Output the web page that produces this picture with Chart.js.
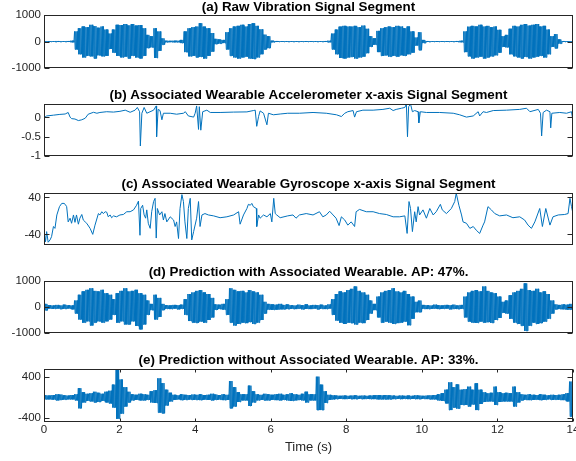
<!DOCTYPE html>
<html>
<head>
<meta charset="utf-8">
<script src="https://cdn.jsdelivr.net/npm/chart.js@4.4.1/dist/chart.umd.min.js"></script>
<style>
html, body { margin: 0; padding: 0; background: #fff; }
#fig { position: relative; width: 576px; height: 461px; overflow: hidden; background: #fff; }
#fig canvas { position: absolute; left: 0; }
</style>
</head>
<body>
<div id="fig">
  <canvas id="pa" width="576" height="78" style="top:0px"></canvas>
  <canvas id="pb" width="576" height="78" style="top:88px"></canvas>
  <canvas id="pc" width="576" height="78" style="top:177px"></canvas>
  <canvas id="pd" width="576" height="78" style="top:265px"></canvas>
  <canvas id="pe" width="576" height="106" style="top:353px"></canvas>
</div>
<script>
// bin width (s) for the envelope of the vibration-type signals
const BIN = 0.1;
// how many max/min swings are drawn inside one bin (dense fill like the original)
const SWINGS = 3;

// (a) raw vibration: max / |min| per 0.1 s bin
const aTop = [15, 15, 15, 20, 15, 15, 20, 30, 380, 500,
  565, 540, 630, 580, 520, 565, 450, 300, 450, 630,
  620, 660, 610, 660, 600, 620, 500, 250, 200, 500,
  380, 120, 30, 25, 30, 30, 60, 380, 500, 540,
  565, 690, 560, 500, 320, 100, 80, 60, 350, 500,
  565, 590, 630, 565, 660, 690, 590, 460, 260, 200,
  30, 20, 15, 15, 15, 15, 15, 15, 15, 15,
  15, 15, 15, 15, 20, 30, 300, 450, 560, 590,
  565, 565, 590, 540, 600, 480, 200, 120, 400, 500,
  540, 565, 540, 590, 565, 500, 565, 380, 150, 350,
  60, 20, 15, 15, 15, 15, 15, 15, 15, 20,
  30, 380, 560, 590, 565, 630, 565, 590, 540, 565,
  440, 200, 250, 480, 590, 565, 630, 660, 600, 630,
  660, 565, 590, 450, 200, 280, 80, 20, 15, 15];
const aBot = [15, 15, 15, 20, 15, 15, 20, 30, 300, 480,
  600, 540, 560, 640, 520, 560, 540, 280, 420, 540,
  600, 570, 640, 540, 600, 640, 540, 250, 220, 620,
  350, 120, 30, 25, 30, 30, 60, 400, 560, 540,
  600, 580, 640, 540, 380, 100, 80, 60, 300, 540,
  600, 640, 600, 570, 640, 660, 600, 480, 300, 250,
  30, 20, 15, 15, 15, 15, 15, 15, 15, 15,
  15, 15, 15, 15, 20, 30, 300, 480, 620, 640,
  600, 580, 640, 600, 570, 440, 200, 120, 400, 540,
  520, 570, 540, 570, 520, 540, 480, 420, 150, 330,
  60, 20, 15, 15, 15, 15, 15, 15, 15, 20,
  30, 400, 560, 640, 600, 570, 640, 600, 560, 520,
  420, 200, 220, 480, 560, 600, 640, 580, 640, 600,
  570, 540, 600, 480, 200, 260, 80, 20, 15, 15];

// (b) accelerometer x-axis
const bT = [0.01, 0.07, 0.25, 0.42, 0.56, 0.64, 0.69, 0.73, 0.82, 0.91,
  1.00, 1.09, 1.17, 1.31, 1.40, 1.48, 1.66, 1.84, 2.01, 2.15,
  2.28, 2.41, 2.47, 2.53, 2.55, 2.59, 2.65, 2.72, 2.90, 2.97,
  2.98, 3.02, 3.07, 3.12, 3.16, 3.34, 3.51, 3.69, 3.74, 3.82,
  3.96, 4.00, 4.04, 4.09, 4.11, 4.15, 4.20, 4.31, 4.40, 4.66,
  5.02, 5.37, 5.54, 5.59, 5.63, 5.68, 5.72, 5.81, 5.90, 5.94,
  6.07, 6.25, 6.45, 6.76, 7.12, 7.47, 7.74, 7.87, 7.96, 8.04,
  8.18, 8.22, 8.27, 8.44, 8.71, 8.97, 9.15, 9.24, 9.32, 9.46,
  9.55, 9.59, 9.62, 9.65, 9.70, 9.75, 9.81, 9.90, 9.92, 9.96,
  10.12, 10.47, 10.83, 11.00, 11.18, 11.36, 11.49, 11.53, 11.62, 11.71,
  11.89, 12.24, 12.59, 12.77, 12.86, 13.08, 13.14, 13.17, 13.21, 13.30,
  13.39, 13.41, 13.44, 13.65, 13.83, 13.96, 14.00];
const bV = [0.00, 0.04, 0.06, 0.08, 0.09, 0.13, 0.01, -0.03, -0.04, -0.08,
  -0.06, -0.02, 0.085, 0.135, 0.11, 0.13, 0.15, 0.14, 0.16, 0.19,
  0.135, 0.19, 0.26, 0.15, -0.74, 0.11, 0.26, 0.11, 0.19, 0.30,
  -0.50, 0.21, 0.18, -0.06, 0.11, 0.11, 0.085, 0.11, 0.15, 0.04,
  0.01, 0.11, 0.30, -0.31, 0.28, -0.33, 0.15, 0.19, 0.13, 0.13,
  0.14, 0.145, 0.18, 0.19, -0.23, 0.03, 0.17, 0.11, -0.19, 0.11,
  0.07, 0.09, 0.11, 0.11, 0.13, 0.11, 0.07, 0.025, 0.11, 0.15,
  0.18, 0.01, 0.15, 0.19, 0.19, 0.21, 0.24, 0.18, 0.21, 0.24,
  0.26, 0.35, -0.50, 0.28, 0.35, 0.15, 0.18, 0.15, -0.14, 0.15,
  0.13, 0.13, 0.11, 0.07, 0.01, 0.04, 0.15, 0.04, 0.15, 0.13,
  0.18, 0.19, 0.21, 0.24, 0.15, 0.21, 0.11, -0.48, 0.13, 0.19,
  0.15, -0.27, 0.11, 0.13, 0.11, 0.15, -0.10];

// (c) gyroscope x-axis
const cT = [0.01, 0.04, 0.07, 0.11, 0.16, 0.20, 0.25, 0.29, 0.34, 0.41,
  0.47, 0.53, 0.56, 0.60, 0.64, 0.69, 0.73, 0.78, 0.82, 0.86,
  0.91, 0.95, 1.00, 1.04, 1.09, 1.13, 1.22, 1.29, 1.35, 1.44,
  1.48, 1.53, 1.57, 1.62, 1.66, 1.70, 1.75, 1.79, 1.84, 1.92,
  2.01, 2.10, 2.19, 2.28, 2.37, 2.45, 2.50, 2.54, 2.56, 2.61,
  2.65, 2.69, 2.72, 2.76, 2.81, 2.85, 2.90, 2.94, 2.97, 3.00,
  3.06, 3.12, 3.16, 3.20, 3.25, 3.34, 3.43, 3.47, 3.51, 3.56,
  3.60, 3.65, 3.69, 3.73, 3.78, 3.82, 3.87, 3.91, 3.96, 4.04,
  4.09, 4.13, 4.18, 4.26, 4.35, 4.49, 4.66, 4.84, 5.02, 5.15,
  5.19, 5.28, 5.37, 5.41, 5.46, 5.50, 5.54, 5.62, 5.63, 5.68,
  5.72, 5.81, 5.90, 5.99, 6.03, 6.08, 6.12, 6.16, 6.25, 6.45,
  6.59, 6.67, 6.76, 6.94, 7.12, 7.29, 7.38, 7.47, 7.56, 7.65,
  7.73, 7.81, 7.87, 7.96, 8.04, 8.13, 8.22, 8.26, 8.35, 8.53,
  8.71, 8.88, 9.06, 9.24, 9.41, 9.55, 9.61, 9.66, 9.70, 9.75,
  9.81, 9.85, 9.90, 9.94, 10.03, 10.12, 10.21, 10.30, 10.38, 10.49,
  10.54, 10.65, 10.78, 10.87, 10.91, 10.98, 11.05, 11.09, 11.18, 11.27,
  11.36, 11.44, 11.53, 11.62, 11.66, 11.75, 11.84, 11.93, 12.06, 12.24,
  12.41, 12.59, 12.72, 12.81, 12.90, 12.99, 13.12, 13.19, 13.28, 13.39,
  13.47, 13.61, 13.78, 13.87, 13.92, 13.96, 14.00];
const cV = [-38, -56, -34, -57, -52, -45, -23, -27, 2, 20,
  27, 27, 25, 20, -13, -5, -16, 2, -14, 2,
  -18, -5, 3, -9, -13, -16, -27, -40, -20, 5,
  2, 9, 5, 9, 8, -2, 2, -4, 0, -2,
  2, 3, 9, 9, 13, 23, 32, -42, 16, 23,
  2, -5, 13, -16, -27, 9, 31, 38, -48, 16,
  2, 9, -9, 5, -13, -2, -9, -23, -13, -49,
  16, 46, 31, -13, -49, 16, 38, -52, -34, -5,
  31, -23, 2, 5, 2, 0, -4, -2, 2, 9,
  -18, 2, 16, 25, 23, 27, 20, 16, -23, 2,
  -5, 2, -2, 5, -13, 38, 5, 2, -4, 0,
  2, -5, 2, 5, 2, 9, -2, 2, 10, 2,
  -5, -21, -2, -9, -20, -13, -23, 9, 14, 9,
  9, 5, 3, -2, -2, 0, -38, 31, 16, -34,
  9, -13, 20, 2, 13, -5, 16, 2, 9, 25,
  13, 5, 16, 31, 49, 23, 2, -13, -16, -27,
  -23, -31, -38, -20, -13, 20, 13, 5, 0, 2,
  -4, -2, -9, -20, -27, -13, 16, -23, 16, -20,
  -2, 2, 3, 5, 38, 20, 5];

// (d) prediction with associated wearable: max / |min| per bin
const dTop = [120, 70, 60, 80, 60, 90, 70, 60, 250, 470,
  600, 660, 720, 620, 600, 660, 530, 470, 300, 530,
  620, 720, 600, 620, 660, 530, 470, 250, 120, 470,
  350, 120, 70, 60, 80, 70, 90, 300, 500, 560,
  620, 650, 560, 500, 350, 100, 90, 120, 300, 720,
  660, 600, 620, 560, 650, 600, 560, 470, 200, 120,
  100, 90, 120, 80, 100, 70, 60, 90, 70, 100,
  60, 80, 70, 90, 60, 100, 300, 500, 600, 560,
  650, 700, 790, 620, 560, 470, 250, 120, 400, 560,
  620, 650, 720, 600, 560, 620, 500, 400, 200, 250,
  80, 70, 60, 90, 70, 60, 80, 70, 90, 60,
  80, 400, 560, 620, 650, 600, 790, 620, 560, 530,
  400, 200, 250, 450, 560, 620, 700, 910, 650, 620,
  700, 560, 600, 500, 250, 100, 80, 100, 90, 120];
const dBot = [130, 60, 70, 60, 80, 70, 60, 90, 250, 480,
  600, 550, 710, 600, 550, 600, 550, 480, 300, 600,
  550, 670, 670, 550, 730, 860, 670, 300, 120, 480,
  380, 120, 70, 80, 60, 90, 70, 300, 540, 600,
  610, 560, 600, 500, 400, 110, 80, 100, 300, 600,
  710, 650, 600, 620, 580, 650, 600, 500, 250, 100,
  110, 100, 90, 90, 80, 70, 80, 60, 90, 70,
  80, 60, 90, 70, 80, 60, 300, 520, 600, 650,
  600, 620, 670, 600, 620, 500, 250, 120, 400, 600,
  560, 600, 650, 620, 600, 560, 700, 450, 200, 200,
  70, 80, 70, 60, 80, 70, 60, 90, 70, 80,
  70, 400, 560, 600, 610, 560, 600, 580, 610, 500,
  420, 220, 250, 450, 600, 650, 720, 920, 720, 600,
  650, 620, 560, 450, 250, 90, 80, 90, 100, 100];

// (e) prediction without associated wearable: max / |min| per bin
const eTop = [40, 35, 45, 60, 55, 40, 35, 45, 60, 180,
  100, 70, 80, 110, 90, 70, 110, 130, 250, 600,
  350, 200, 110, 60, 50, 70, 60, 50, 120, 140,
  374, 280, 150, 90, 50, 40, 60, 50, 45, 55,
  50, 60, 45, 50, 70, 55, 45, 60, 50, 320,
  200, 100, 60, 60, 230, 120, 60, 50, 70, 60,
  50, 60, 70, 50, 60, 80, 60, 50, 70, 110,
  60, 60, 407, 250, 120, 50, 40, 35, 30, 35,
  30, 35, 40, 30, 35, 30, 35, 40, 45, 40,
  45, 40, 35, 30, 35, 30, 35, 30, 40, 35,
  30, 35, 40, 45, 60, 80, 150, 295, 200, 255,
  150, 160, 210, 150, 275, 150, 100, 80, 90, 210,
  100, 80, 90, 80, 210, 100, 60, 50, 60, 50,
  45, 60, 50, 40, 50, 45, 50, 60, 80, 310];
const eBot = [40, 40, 45, 60, 50, 45, 40, 40, 60, 216,
  100, 70, 80, 100, 90, 70, 100, 120, 200, 420,
  320, 180, 100, 60, 50, 60, 60, 50, 100, 110,
  300, 315, 160, 80, 50, 40, 55, 50, 45, 50,
  50, 55, 45, 50, 60, 50, 45, 55, 50, 216,
  180, 90, 60, 60, 170, 100, 60, 50, 60, 60,
  50, 55, 60, 50, 60, 70, 60, 50, 60, 100,
  60, 60, 250, 250, 110, 50, 40, 35, 30, 35,
  30, 35, 35, 30, 35, 30, 35, 35, 40, 40,
  40, 40, 35, 30, 35, 30, 35, 30, 35, 35,
  30, 35, 40, 40, 60, 70, 120, 250, 200, 220,
  150, 150, 180, 140, 250, 130, 90, 80, 80, 150,
  90, 80, 80, 80, 180, 100, 60, 50, 55, 50,
  45, 55, 50, 40, 50, 45, 50, 55, 80, 380];

const titles = [
  '(a) Raw Vibration Signal Segment',
  '(b) Associated Wearable Accelerometer x-axis Signal Segment',
  '(c) Associated Wearable Gyroscope x-axis Signal Segment',
  '(d) Prediction with Associated Wearable. AP: 47%.',
  '(e) Prediction without Associated Wearable. AP: 33%.'
];
const xTicks = [0, 2, 4, 6, 8, 10, 12, 14];
const yTicksA = [-1000, 0, 1000];
const yTicksB = [-1, -0.5, 0];
const yTicksC = [-40, 40];
const yTicksD = [-1000, 0, 1000];
const yTicksE = [-400, 400];

Chart.defaults.font.family = '"Liberation Sans", Arial, Helvetica, sans-serif';
Chart.defaults.font.size = 11.5;
Chart.defaults.color = '#262626';

// max/min of every bin -> alternating line points
function binSeries(top, bot) {
  const pts = [];
  const step = BIN / (2 * SWINGS);
  top.forEach((v, i) => {
    for (let k = 0; k < SWINGS; k++) {
      pts.push({ x: i * BIN + (2 * k + 0.5) * step, y: v });
      pts.push({ x: i * BIN + (2 * k + 1.5) * step, y: -bot[i] });
    }
  });
  return pts;
}

function pairSeries(ts, vs) {
  return ts.map((t, i) => ({ x: t, y: vs[i] }));
}

// matlab style box with inward ticks
const boxPlugin = {
  id: 'box',
  afterDatasetsDraw(chart, args, opts) {
    const { ctx, chartArea: a, scales } = chart;
    const L = Math.round(a.left) + 0.5, R = Math.round(a.right) - 0.5;
    const T = Math.round(a.top) + 0.5, B = Math.round(a.bottom) - 0.5;
    ctx.save();
    ctx.strokeStyle = '#262626';
    ctx.lineWidth = 1;
    ctx.beginPath();
    scales.y.ticks.forEach(tk => {
      const y = Math.round(scales.y.getPixelForValue(tk.value)) + 0.5;
      ctx.moveTo(L, y); ctx.lineTo(L + 5, y);
      ctx.moveTo(R, y); ctx.lineTo(R - 5, y);
    });
    if (opts.xTicks) {
      scales.x.ticks.forEach(tk => {
        const x = Math.round(scales.x.getPixelForValue(tk.value)) + 0.5;
        ctx.moveTo(x, T); ctx.lineTo(x, T + 3);
        ctx.moveTo(x, B); ctx.lineTo(x, B - 3);
      });
    }
    ctx.stroke();
    ctx.strokeRect(L, T, R - L, B - T);
    ctx.restore();
  }
};

function makePanel(id, title, data, yMin, yMax, yTicks, last) {
  new Chart(document.getElementById(id), {
    type: 'line',
    data: {
      datasets: [{
        data: data,
        borderColor: '#0072BD',
        borderWidth: 1,
        pointRadius: 0,
        tension: 0,
        fill: false
      }]
    },
    options: {
      responsive: false,
      animation: false,
      devicePixelRatio: 1,
      events: [],
      layout: { padding: { left: 0, right: 3, top: 0, bottom: last ? 0 : 10 } },
      scales: {
        x: {
          type: 'linear',
          min: 0,
          max: 14,
          display: last,
          grid: { display: false, drawTicks: false },
          border: { display: false },
          afterBuildTicks: s => { s.ticks = xTicks.map(v => ({ value: v })); },
          ticks: { padding: 1, color: '#262626', callback: v => String(v), maxRotation: 0 },
          title: { display: true, text: 'Time (s)', color: '#262626', font: { size: 13 }, padding: { top: 4, bottom: 4 } },
          afterFit: s => {
            if (!last) return;
            s.height = 37; s.paddingLeft = 0; s.paddingRight = 0;
          }
        },
        y: {
          type: 'linear',
          min: yMin,
          max: yMax,
          grid: { display: false, drawTicks: false },
          border: { display: false },
          afterBuildTicks: s => { s.ticks = yTicks.map(v => ({ value: v })); },
          ticks: { padding: 3, color: '#262626', callback: v => String(v) },
          afterFit: s => { s.width = 44; s.paddingTop = 0; s.paddingBottom = 0; }
        }
      },
      plugins: {
        legend: { display: false },
        tooltip: { enabled: false },
        title: {
          display: true,
          text: title,
          color: '#000',
          fullSize: false,
          font: { size: 13.4, weight: 'bold', lineHeight: '14px' },
          padding: { top: 0, bottom: id === 'pa' ? 1 : 2 }
        },
        box: { xTicks: last }
      }
    },
    plugins: [boxPlugin]
  });
}

makePanel('pa', titles[0], binSeries(aTop, aBot), -1000, 1000, yTicksA, false);
makePanel('pb', titles[1], pairSeries(bT, bV), -1, 0.35, yTicksB, false);
makePanel('pc', titles[2], pairSeries(cT, cV), -63, 49.5, yTicksC, false);
makePanel('pd', titles[3], binSeries(dTop, dBot), -1000, 1000, yTicksD, false);
makePanel('pe', titles[4], binSeries(eTop, eBot), -485, 557, yTicksE, true);
</script>
</body>
</html>
